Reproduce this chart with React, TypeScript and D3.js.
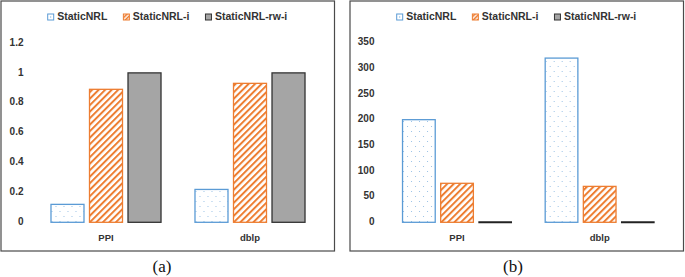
import React from "react";
import * as d3 from "d3";

const categories = ["PPI", "dblp"];
const seriesNames = ["StaticNRL", "StaticNRL-i", "StaticNRL-rw-i"];
const accuracyStatic = [0.12, 0.22];
const accuracyStaticI = [0.89, 0.93];
const accuracyStaticRwI = [1.0, 1.0];
const timeStatic = [200, 320];
const timeStaticI = [76, 70];
const timeStaticRwI = [0, 0];
const ticksA = [0, 0.2, 0.4, 0.6, 0.8, 1, 1.2];
const ticksB = [0, 50, 100, 150, 200, 250, 300, 350];
const captions = ["(a)", "(b)"];

const W = 685;
const H = 277;
const FONT = "'Liberation Sans', Arial, sans-serif";
const BLUE = "#5B9BD5";
const ORANGE = "#ED7D31";
const GRAY = "#A5A5A5";

function measure(text: string, size: number) {
  if (typeof document === "undefined") return text.length * size * 0.55;
  const c = document.createElement("canvas");
  const ctx = c.getContext("2d")!;
  ctx.font = `bold ${size}px 'Liberation Sans', Arial, sans-serif`;
  return ctx.measureText(text).width;
}

type PanelProps = {
  box: [number, number, number, number];
  xRange: [number, number];
  yRange: [number, number];
  domainMax: number;
  ticks: number[];
  tickFmt: (v: number) => string;
  labelX: number;
  values: number[][];
  legendX: number;
  caption: string;
  captionX: number;
  flatLast: boolean;
};

function Panel(p: PanelProps) {
  const x0 = d3.scaleBand<string>().domain(categories).range(p.xRange).paddingInner(0.229).paddingOuter(0.1145);
  const x1 = d3.scaleBand<string>().domain(seriesNames).range([0, x0.bandwidth()]).paddingInner(0.117);
  const y = d3.scaleLinear().domain([0, p.domainMax]).range(p.yRange);
  const fills = ["url(#dots)", "url(#hatch)", GRAY];
  const strokes = [BLUE, ORANGE, "#333"];
  const fs = 10.5;
  let lx = p.legendX;
  const legendItems = seriesNames.map((s, i) => {
    const item = { x: lx, name: s, i };
    lx += 9.5 + measure(s, fs) + 16;
    return item;
  });
  const [bx, by, bw, bh] = p.box;
  return (
    <g>
      <rect x={bx} y={by} width={bw} height={bh} fill="white" stroke="#4a4a4a" strokeWidth={1.2} />
      {legendItems.map((it) => (
        <g key={it.name}>
          {it.i === 2 ? (
            <rect x={it.x} y={14} width={6} height={6} fill={GRAY} stroke="#333" strokeWidth={1} />
          ) : it.i === 1 ? (
            <rect x={it.x} y={14} width={6} height={6} fill="url(#hatchS)" stroke={ORANGE} strokeWidth={1} />
          ) : (
            <g>
              <rect x={it.x} y={14} width={6} height={6} fill="white" stroke={BLUE} strokeWidth={1} />
              <rect x={it.x + 2.5} y={16.5} width={1} height={1} fill={BLUE} />
            </g>
          )}
          <text x={it.x + 9.5} y={17.3} fontFamily={FONT} fontWeight="bold" fontSize={fs} fill="#333" dominantBaseline="middle">
            {it.name}
          </text>
        </g>
      ))}
      {p.ticks.map((t) => (
        <text key={t} x={p.labelX} y={y(t)} textAnchor="end" dominantBaseline="middle" fontFamily={FONT} fontWeight="bold" fontSize={10} fill="#333">
          {p.tickFmt(t)}
        </text>
      ))}
      {categories.map((c, ci) => (
        <g key={c} transform={`translate(${x0(c)},0)`}>
          {seriesNames.map((s, si) => {
            const v = p.values[si][ci];
            const xx = x1(s)!;
            if (p.flatLast && si === 2) {
              return <line key={s} x1={xx} x2={xx + x1.bandwidth()} y1={y(v)} y2={y(v)} stroke="#222" strokeWidth={2} />;
            }
            return (
              <rect key={s} x={xx + 0.5} y={y(v)} width={x1.bandwidth() - 1} height={y(0) - y(v)} fill={fills[si]} stroke={strokes[si]} strokeWidth={1.3} />
            );
          })}
          <text x={x0.bandwidth() / 2} y={238.5} textAnchor="middle" dominantBaseline="middle" fontFamily={FONT} fontWeight="bold" fontSize={9.5} fill="#333">
            {c}
          </text>
        </g>
      ))}
      <text x={p.captionX} y={268} textAnchor="middle" dominantBaseline="middle" fontFamily="'Liberation Serif', 'Times New Roman', serif" fontSize={17} fill="#111">
        {p.caption}
      </text>
    </g>
  );
}

export default function App() {
  return (
    <svg width={W} height={H} style={{ position: "absolute", left: 0, top: 0, background: "white" }}>
      <defs>
        <pattern id="dots" width={8} height={10} patternUnits="userSpaceOnUse">
          <rect width={8} height={10} fill="white" />
          <rect x={1} y={1} width={1} height={1} fill="#9DC3E6" />
          <rect x={5} y={6} width={1} height={1} fill="#9DC3E6" />
        </pattern>
        <pattern id="hatch" width={4.6} height={4.6} patternUnits="userSpaceOnUse" patternTransform="rotate(45)">
          <rect width={4.6} height={4.6} fill="white" />
          <rect x={0} y={0} width={2} height={4.6} fill={ORANGE} />
        </pattern>
        <pattern id="hatchS" width={3} height={3} patternUnits="userSpaceOnUse" patternTransform="rotate(45)">
          <rect width={3} height={3} fill="white" />
          <rect x={0} y={0} width={1.6} height={3} fill={ORANGE} />
        </pattern>
      </defs>
      <Panel
        box={[1, 1, 333.5, 250]}
        xRange={[34, 322]}
        yRange={[222.3, 43]}
        domainMax={1.2}
        ticks={ticksA}
        tickFmt={(v) => d3.format("~g")(v)}
        labelX={23.5}
        values={[accuracyStatic, accuracyStaticI, accuracyStaticRwI]}
        legendX={47.7}
        caption={captions[0]}
        captionX={162}
        flatLast={false}
      />
      <Panel
        box={[350, 1, 333.5, 250]}
        xRange={[385.7, 671]}
        yRange={[222.3, 42.7]}
        domainMax={350}
        ticks={ticksB}
        tickFmt={(v) => String(v)}
        labelX={374.5}
        values={[timeStatic, timeStaticI, timeStaticRwI]}
        legendX={396.7}
        caption={captions[1]}
        captionX={513}
        flatLast={true}
      />
    </svg>
  );
}
